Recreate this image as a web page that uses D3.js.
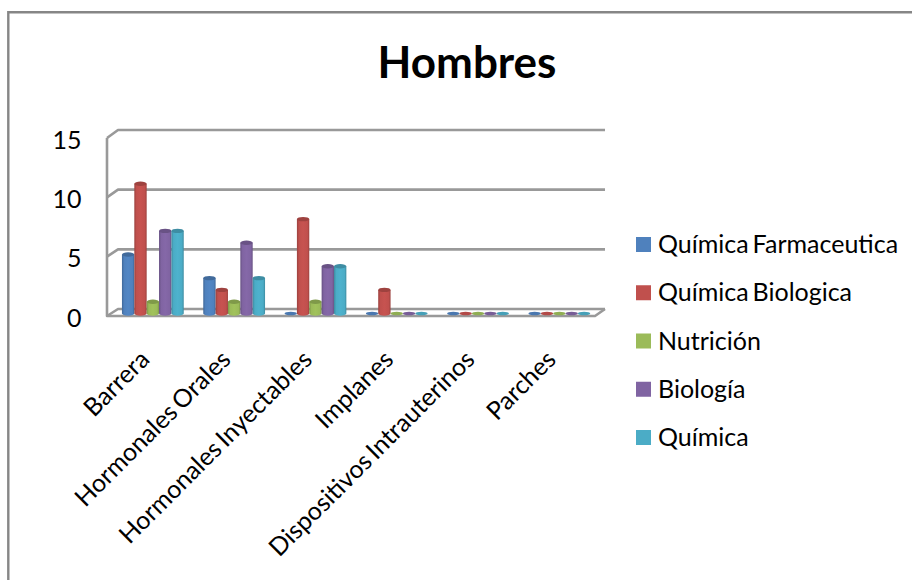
<!DOCTYPE html>
<html>
<head>
<meta charset="utf-8">
<script src="https://cdn.jsdelivr.net/npm/d3@7"></script>
<style>
  html, body { margin: 0; padding: 0; background: #fff; }
  svg { display: block; }
  text { font-family: Lato, "Open Sans", sans-serif; fill: #000; word-spacing: -2.5px; }
</style>
</head>
<body>
<script>
const categories = ["Barrera", "Hormonales Orales", "Hormonales Inyectables", "Implanes", "Dispositivos Intrauterinos", "Parches"];
const seriesNames = ["Química Farmaceutica", "Química Biologica", "Nutrición", "Biología", "Química"];
const quimicaFarmaceutica = [5, 3, 0, 0, 0, 0];
const quimicaBiologica = [11, 2, 8, 2, 0, 0];
const nutricion = [1, 1, 1, 0, 0, 0];
const biologia = [7, 6, 4, 0, 0, 0];
const quimica = [7, 3, 4, 0, 0, 0];
const seriesValues = [quimicaFarmaceutica, quimicaBiologica, nutricion, biologia, quimica];
const seriesColors = ["#4f81bd", "#c0504d", "#9bbb59", "#8064a2", "#4bacc6"];
const yTicks = [0, 5, 10, 15];

const width = 912, height = 580;
const svg = d3.select("body").append("svg").attr("width", width).attr("height", height);
const defs = svg.append("defs");

// Horizontal shading that makes each bar read as a cylinder
seriesColors.forEach((c, i) => {
  const base = d3.color(c);
  const g = defs.append("linearGradient").attr("id", "cyl" + i);
  g.append("stop").attr("offset", "0%").attr("stop-color", base.darker(0.6));
  g.append("stop").attr("offset", "18%").attr("stop-color", base);
  g.append("stop").attr("offset", "50%").attr("stop-color", base.brighter(0.1));
  g.append("stop").attr("offset", "85%").attr("stop-color", base);
  g.append("stop").attr("offset", "100%").attr("stop-color", base.darker(0.6));
});

// Outer chart frame, only top and left edges are in view
svg.append("path").attr("d", "M8.3,580V12.3H912").attr("fill", "none")
  .attr("stroke", "#868686").attr("stroke-width", 2.4);

// Three scales for the three depths of the box: front edge, back wall, bar centre line
const yFront = d3.scaleLinear().domain([0, 15]).range([316, 138]);
const yBack = d3.scaleLinear().domain([0, 15]).range([309, 130]);
const yBar = d3.scaleLinear().domain([0, 15]).range([313.5, 136.5]);
const xFrontLeft = 107, xBackLeft = 118, xFrontRight = 595, xBackRight = 605;

const x0 = d3.scaleBand().domain(categories).range([112.2, 600]).paddingInner(0.24).paddingOuter(0.12);
const x1 = d3.scaleBand().domain(seriesNames).range([0, x0.bandwidth()]);

const frame = svg.append("g").attr("fill", "none").attr("stroke", "#999999")
  .attr("stroke-width", 2.6).attr("stroke-linejoin", "round");

// Wall gridlines, each with its short diagonal back from the front edge
frame.selectAll("path.grid").data(yTicks).join("path").attr("class", "grid")
  .attr("d", d => `M${xFrontLeft},${yFront(d)}L${xBackLeft},${yBack(d)}H${xBackRight}`);

// Front edge of the axis and the floor outline
frame.append("path").attr("d", `M${xFrontLeft},${yFront(15)}V${yFront(0)}H${xFrontRight}L${xBackRight},${yBack(0)}`);

// Cylinders
const ry = 2.2;
const groups = svg.append("g").selectAll("g").data(categories).join("g")
  .attr("transform", d => `translate(${x0(d)},0)`);

groups.each(function (cat, ci) {
  const g = d3.select(this);
  seriesNames.forEach((name, si) => {
    const v = seriesValues[si][ci];
    const bx = x1(name), bw = x1.bandwidth(), rx = bw / 2;
    const top = yBar(v), bottom = yBar(0);
    const color = seriesColors[si];
    if (v === 0) {
      g.append("ellipse").attr("cx", bx + rx).attr("cy", bottom)
        .attr("rx", rx).attr("ry", 1.8).attr("fill", d3.color(color).darker(0.2));
      return;
    }
    g.append("path")
      .attr("d", `M${bx},${top}V${bottom}A${rx},${ry} 0 0 0 ${bx + bw},${bottom}V${top}Z`)
      .attr("fill", `url(#cyl${si})`);
    g.append("ellipse").attr("cx", bx + rx).attr("cy", top)
      .attr("rx", rx).attr("ry", ry).attr("fill", d3.color(color).darker(0.55));
  });
});

// Value axis labels
svg.append("g").selectAll("text").data(yTicks).join("text")
  .attr("x", 81.5).attr("y", d => yFront(d) + 10.5)
  .attr("text-anchor", "end").attr("font-size", 25).text(d => d);

// Slanted category labels, anchored at their upper right end
svg.append("g").selectAll("text").data(categories).join("text")
  .attr("transform", d => `translate(${x0(d) + 29},361) rotate(-45)`)
  .attr("text-anchor", "end").attr("font-size", 25).text(d => d);

// Title
svg.append("text").attr("x", 467).attr("y", 78).attr("text-anchor", "middle")
  .attr("font-size", 44).attr("font-weight", 700).text("Hombres");

// Legend
const legendY = d3.scalePoint().domain(seriesNames).range([244.5, 437.5]);
const legend = svg.append("g").selectAll("g").data(seriesNames).join("g")
  .attr("transform", d => `translate(636,${legendY(d)})`);
legend.append("rect").attr("y", -7.5).attr("width", 15).attr("height", 15)
  .attr("fill", (d, i) => seriesColors[i]);
legend.append("text").attr("x", 22).attr("y", 8.5).attr("font-size", 25).text(d => d);
</script>
</body>
</html>
